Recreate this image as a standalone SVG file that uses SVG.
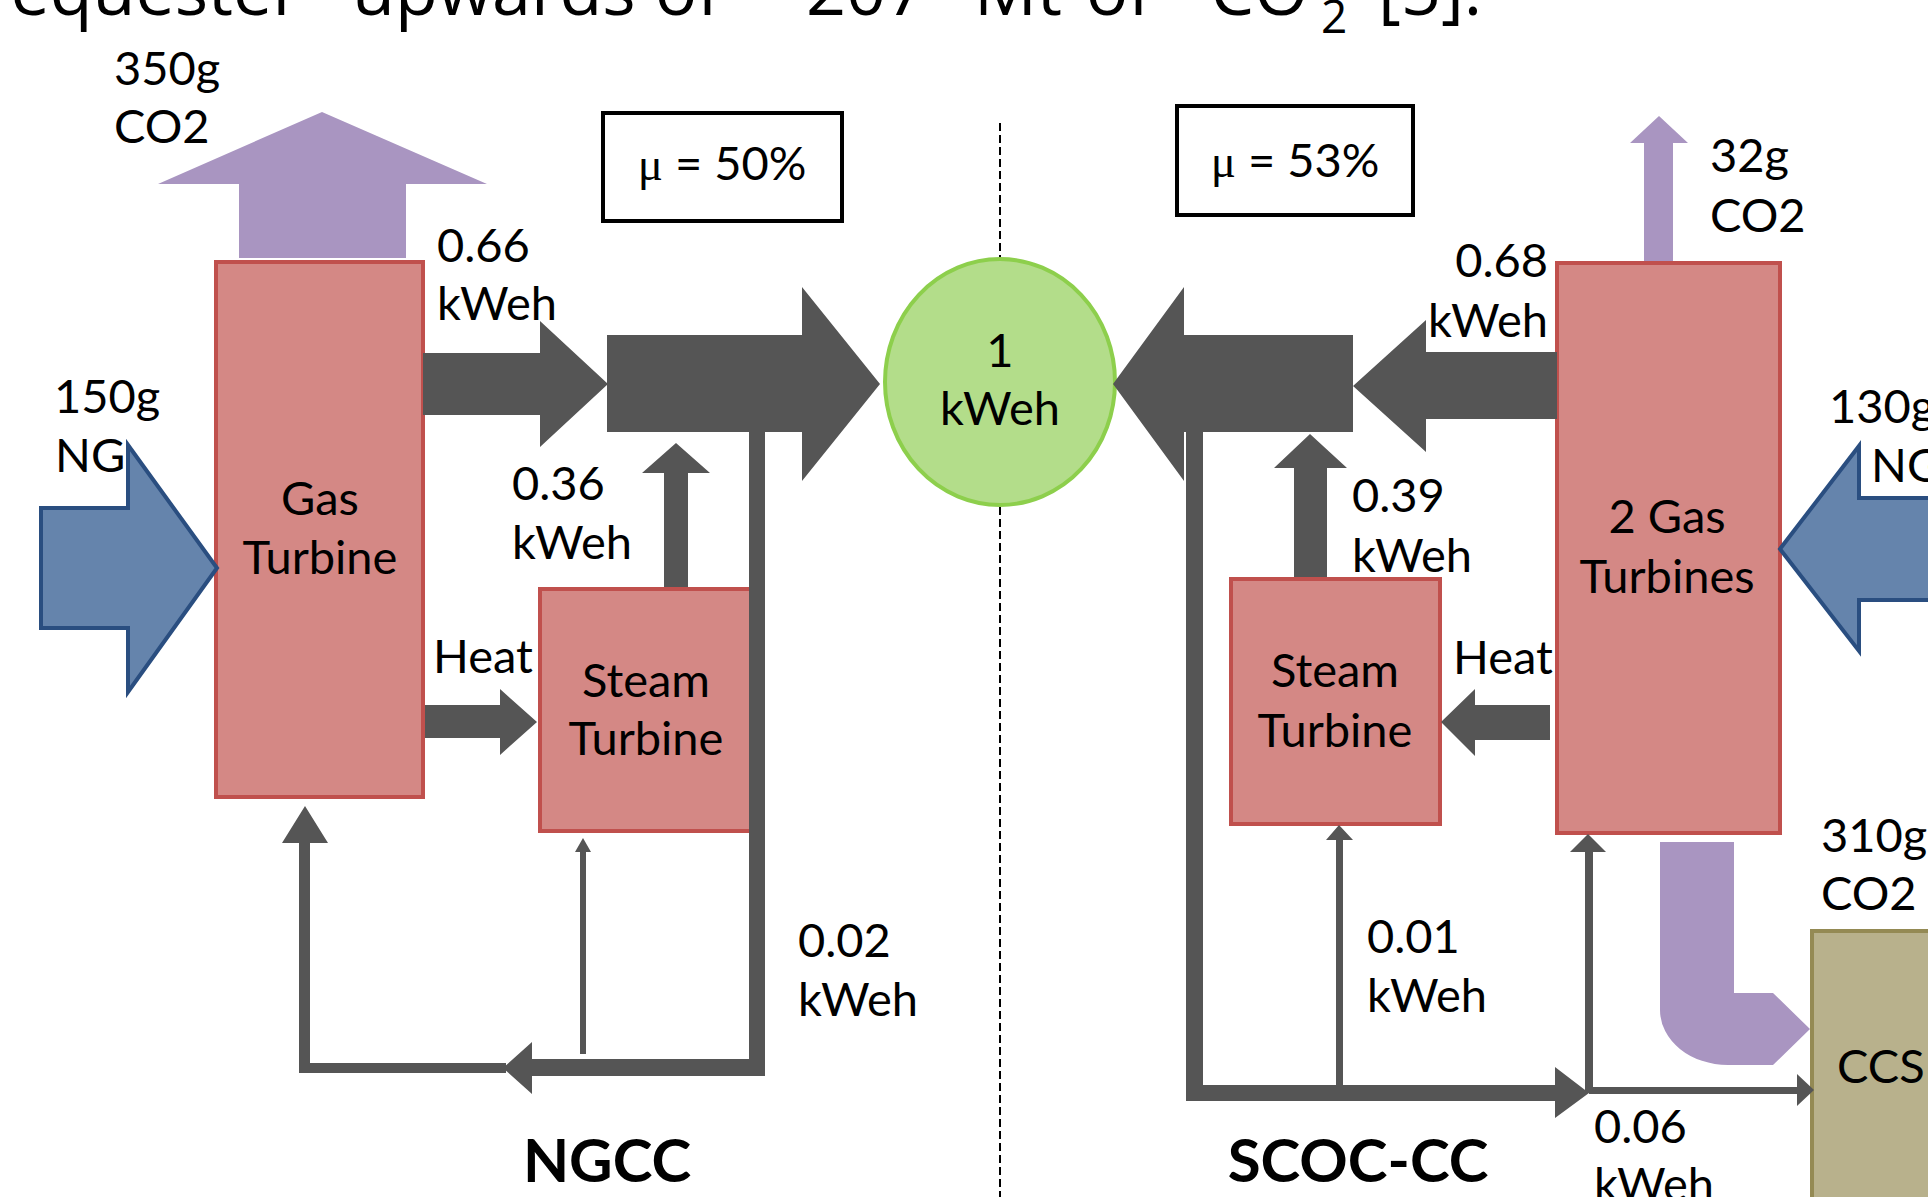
<svg xmlns="http://www.w3.org/2000/svg" width="1928" height="1197" viewBox="0 0 1928 1197">
<style>
.lbl{font-family:Lato,"Liberation Sans",sans-serif;font-size:47px;fill:#000}
.mid{text-anchor:middle}
.end{text-anchor:end}
.ttl{font-weight:bold;font-size:60px}
.mu{font-family:"Liberation Serif",serif}
.top{font-family:"Open Sans","Noto Sans",sans-serif;font-size:70px;fill:#000}
.dark{fill:#555555}
.co2{fill:#A995C1}
.ng{fill:#6584AC;stroke:#2A4E80;stroke-width:4;stroke-linejoin:miter}
.unit{fill:#D48885;stroke:#C0504D;stroke-width:4}
.box{fill:#fff;stroke:#000;stroke-width:4}
</style>

<text class="top" y="15"><tspan x="301" text-anchor="end">equester</tspan></text>
<text class="top" y="15"><tspan x="352">upwards</tspan><tspan x="655">of</tspan><tspan x="806">207</tspan><tspan x="974">Mt</tspan><tspan x="1086">of</tspan><tspan x="1210">CO</tspan></text>
<text class="top" x="1321" y="33" style="font-size:46px">2</text>
<text class="top" x="1378" y="15">[5].</text>

<line x1="1000" y1="123" x2="1000" y2="1197" stroke="#000" stroke-width="2" stroke-dasharray="8 4"/>

<g id="ngcc-gas-turbine">
<rect class="unit" x="216" y="262" width="207" height="535"/>
<text class="lbl mid" x="320" y="515">Gas</text>
<text class="lbl mid" x="320" y="574">Turbine</text>
</g>
<g id="ngcc-steam-turbine">
<rect class="unit" x="540" y="589" width="212" height="242"/>
<text class="lbl mid" x="646" y="697">Steam</text>
<text class="lbl mid" x="646" y="755">Turbine</text>
</g>
<g id="ngcc-efficiency">
<rect class="box" x="603" y="113" width="239" height="108"/>
<text class="lbl mid" x="722" y="180"><tspan class="mu">μ</tspan> = 50%</text>
</g>
<g id="output">
<ellipse cx="1000" cy="382" rx="115" ry="123" fill="#B3DD8A" stroke="#8DCF4C" stroke-width="4"/>
<text class="lbl mid" x="1000" y="367">1</text>
<text class="lbl mid" x="1000" y="425">kWeh</text>
</g>
<g id="scoc-efficiency">
<rect class="box" x="1177" y="106" width="236" height="109"/>
<text class="lbl mid" x="1295" y="177"><tspan class="mu">μ</tspan> = 53%</text>
</g>
<g id="scoc-gas-turbines">
<rect class="unit" x="1557" y="263" width="223" height="570"/>
<text class="lbl mid" x="1667" y="533">2 Gas</text>
<text class="lbl mid" x="1667" y="593">Turbines</text>
</g>
<g id="scoc-steam-turbine">
<rect class="unit" x="1231" y="579" width="209" height="245"/>
<text class="lbl mid" x="1335" y="687">Steam</text>
<text class="lbl mid" x="1335" y="747">Turbine</text>
</g>
<g id="ccs">
<rect x="1812" y="931" width="200" height="300" fill="#B8B18C" stroke="#948A54" stroke-width="4"/>
<text class="lbl" x="1837" y="1083">CCS</text>
</g>

<g id="connectors">
<polygon class="co2" points="239,258 239,184 158,184 322,112 487,184 406,184 406,258"/>
<polygon class="ng" points="41,508 128,508 128,445 217,568 128,692 128,628 41,628"/>
<polygon class="dark" points="423,353 540,353 540,321 608,384 540,447 540,415 423,415"/>
<polygon class="dark" points="607,335 802,335 802,287 880,384 802,481 802,432 607,432"/>
<polygon class="dark" points="664,587 664,473 642,473 676,443 710,473 688,473 688,587"/>
<polygon class="dark" points="425,705 500,705 500,689 537,722 500,755 500,738 425,738"/>
<polygon class="dark" points="749,432 765,432 765,1076 532,1076 532,1094 503,1068 532,1042 532,1059 749,1059"/>
<polygon class="dark" points="506,1063 506,1073 299,1073 299,843 282,843 305,806 328,843 310,843 310,1063"/>
<polygon class="dark" points="580,1054 580,852 575,852 583,838 591,852 586,852 586,1054"/>

<polygon class="co2" points="1644,261 1644,143 1630,143 1659,116 1688,143 1673,143 1673,261"/>
<polygon class="ng" points="1935,498 1859,498 1859,446 1780,549 1859,651 1859,600 1935,600"/>
<polygon class="dark" points="1557,352 1426,352 1426,320 1353,386 1426,452 1426,419 1557,419"/>
<polygon class="dark" points="1353,335 1184,335 1184,287 1113,384 1184,481 1184,432 1353,432"/>
<polygon class="dark" points="1294,577 1294,468 1274,468 1310,434 1347,468 1327,468 1327,577"/>
<polygon class="dark" points="1550,705 1475,705 1475,689 1441,722 1475,756 1475,740 1550,740"/>
<polygon class="dark" points="1186,432 1203,432 1203,1085 1555,1085 1555,1067 1589,1093 1555,1118 1555,1101 1186,1101"/>
<polygon class="dark" points="1336,1098 1336,840 1326,840 1339,825 1353,840 1343,840 1343,1098"/>
<polygon class="dark" points="1585,1093 1585,852 1570,852 1588,834 1606,852 1593,852 1593,1093"/>
<polygon class="dark" points="1589,1087 1797,1087 1797,1074 1814,1090 1797,1106 1797,1094 1589,1094"/>
<path class="co2" d="M1660,842 L1734,842 L1734,993 L1773,993 L1810,1029 L1773,1065 L1728,1065 A68,55 0 0 1 1660,1010 Z"/>
</g>

<g id="labels">
<text class="lbl" x="114" y="85">350g</text>
<text class="lbl" x="114" y="143">CO2</text>
<text class="lbl" x="437" y="262">0.66</text>
<text class="lbl" x="437" y="320">kWeh</text>
<text class="lbl" x="54" y="413">150g</text>
<text class="lbl" x="55" y="472">NG</text>
<text class="lbl" x="512" y="500">0.36</text>
<text class="lbl" x="512" y="559">kWeh</text>
<text class="lbl" x="433" y="673">Heat</text>
<text class="lbl" x="798" y="957">0.02</text>
<text class="lbl" x="798" y="1016">kWeh</text>
<text class="lbl ttl mid" x="607" y="1182">NGCC</text>
<text class="lbl" x="1710" y="172">32g</text>
<text class="lbl" x="1710" y="232">CO2</text>
<text class="lbl end" x="1548" y="277">0.68</text>
<text class="lbl end" x="1548" y="337">kWeh</text>
<text class="lbl" x="1829" y="423">130g</text>
<text class="lbl" x="1871" y="482">NG</text>
<text class="lbl" x="1352" y="512">0.39</text>
<text class="lbl" x="1352" y="572">kWeh</text>
<text class="lbl" x="1453" y="674">Heat</text>
<text class="lbl" x="1821" y="852">310g</text>
<text class="lbl" x="1821" y="910">CO2</text>
<text class="lbl" x="1367" y="953">0.01</text>
<text class="lbl" x="1367" y="1012">kWeh</text>
<text class="lbl" x="1594" y="1143">0.06</text>
<text class="lbl" x="1594" y="1201">kWeh</text>
<text class="lbl ttl mid" x="1358" y="1182">SCOC-CC</text>
</g>
</svg>
